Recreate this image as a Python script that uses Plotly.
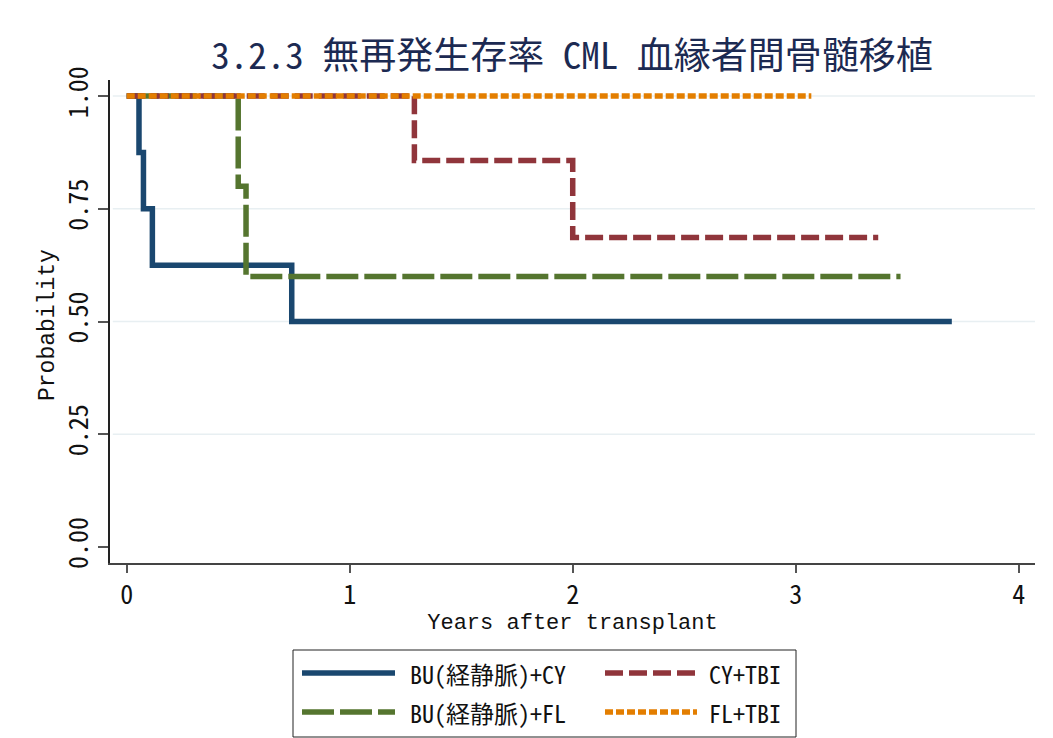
import plotly.graph_objects as go

# ---- data ----
bu_cy_t = [0.0, 0.055, 0.075, 0.115, 0.74, 3.70]
bu_cy_s = [1.0, 0.875, 0.75, 0.625, 0.5, 0.5]

bu_fl_t = [0.0, 0.50, 0.535, 3.47]
bu_fl_s = [1.0, 0.80, 0.60, 0.60]

cy_tbi_t = [0.0, 1.29, 2.0, 3.37]
cy_tbi_s = [1.0, 0.857, 0.686, 0.686]

fl_tbi_t = [0.0, 3.07]
fl_tbi_s = [1.0, 1.0]

series_names = ["BU(経静脈)+CY", "BU(経静脈)+FL", "CY+TBI", "FL+TBI"]
x_ticks = [0, 1, 2, 3, 4]
y_ticks = [0.0, 0.25, 0.5, 0.75, 1.0]
y_ticktext = ["0.00", "0.25", "0.50", "0.75", "1.00"]
title_text = "3.2.3 無再発生存率 CML 血縁者間骨髄移植"
x_title = "Years after transplant"
y_title = "Probability"

# ---- styles ----
colors = ["#1a476f", "#55752f", "#90353b", "#e37e00"]
dashes = ["solid", "32px,6px", "18px,6px", "8px,3px"]
widths = [5.5, 5.5, 5.5, 5.5]

OFF = 8  # page body margin
W, H = 1053 - OFF, 738 - OFF
L, R, T, B = 110 - OFF, 18, 80 - OFF, 175
GOTHIC = "Noto Sans Mono CJK JP, Noto Sans CJK JP, monospace"
MONO = "Liberation Mono, DejaVu Sans Mono, monospace"

def px_x(p):
    return (p - OFF - L) / (W - L - R)

def px_y(p):
    return (H - B - (p - OFF)) / (H - T - B)

fig = go.Figure()
data = [(bu_cy_t, bu_cy_s), (bu_fl_t, bu_fl_s), (cy_tbi_t, cy_tbi_s), (fl_tbi_t, fl_tbi_s)]
for (t, s), name, c, d, w in zip(data, series_names, colors, dashes, widths):
    fig.add_trace(go.Scatter(x=t, y=s, mode="lines", name=name,
                             line=dict(color=c, dash=d, width=w, shape="hv"),
                             showlegend=False))

shapes = []
# gridlines (Stata style: not at the axis minimum)
for v in y_ticks[1:]:
    shapes.append(dict(type="line", xref="paper", yref="y", x0=0.003, x1=1.0, y0=v, y1=v,
                       line=dict(color="#e8eff2", width=1.5), layer="below"))
# outer graph-region frame
shapes.append(dict(type="rect", xref="paper", yref="paper",
                   x0=px_x(5), x1=px_x(1070), y0=px_y(5), y1=px_y(760),
                   line=dict(color="#e6edf1", width=2), layer="below"))
# legend box
shapes.append(dict(type="rect", xref="paper", yref="paper",
                   x0=px_x(293), x1=px_x(796), y0=px_y(650), y1=px_y(737),
                   line=dict(color="#222222", width=1), fillcolor="white"))

annotations = []
leg_pos = [(302, 395, 408, 673), (302, 395, 408, 712), (605, 697, 707, 673), (605, 697, 707, 712)]
for (lx0, lx1, tx, ty), name, c, d, w in zip(leg_pos, series_names, colors, dashes, widths):
    shapes.append(dict(type="line", xref="paper", yref="paper",
                       x0=px_x(lx0), x1=px_x(lx1), y0=px_y(ty), y1=px_y(ty),
                       line=dict(color=c, dash=d, width=w)))
    annotations.append(dict(text=name, xref="paper", yref="paper", x=px_x(tx), y=px_y(ty),
                            xanchor="left", yanchor="middle", showarrow=False,
                            font=dict(family=GOTHIC, size=24, color="#111111")))

# y-axis title
annotations.append(dict(text=y_title, xref="paper", yref="paper", x=px_x(48), y=px_y(325),
                        xanchor="center", yanchor="middle", textangle=-90, showarrow=False,
                        font=dict(family=MONO, size=23, color="#111111")))

fig.update_layout(
    width=W, height=H,
    margin=dict(l=L, r=R, t=T, b=B, autoexpand=False),
    paper_bgcolor="white", plot_bgcolor="white",
    title=dict(text=title_text, xref="container", yref="container",
               x=(572 - OFF) / W, y=1 - (56 - OFF) / H, xanchor="center", yanchor="middle",
               font=dict(family=GOTHIC, size=37, color="#1c2a52")),
    xaxis=dict(range=[-0.075, 4.073], tickvals=x_ticks, ticks="outside", ticklen=8,
               tickcolor="#555555", tickwidth=1.5, showline=True, linecolor="#444444",
               linewidth=1.5, showgrid=False, zeroline=False,
               tickfont=dict(family=GOTHIC, size=26, color="#111111"),
               title=dict(text=x_title, font=dict(family=MONO, size=22, color="#111111"),
                          standoff=2)),
    yaxis=dict(range=[-0.0355, 1.0355], tickvals=y_ticks, ticktext=y_ticktext,
               tickangle=-90, ticks="outside", ticklen=10,
               tickcolor="#555555", tickwidth=1.5, showline=True, linecolor="#222222",
               linewidth=1.5, showgrid=False, zeroline=False,
               tickfont=dict(family=GOTHIC, size=26, color="#111111")),
    shapes=shapes, annotations=annotations,
)

fig.write_html("out.html")
